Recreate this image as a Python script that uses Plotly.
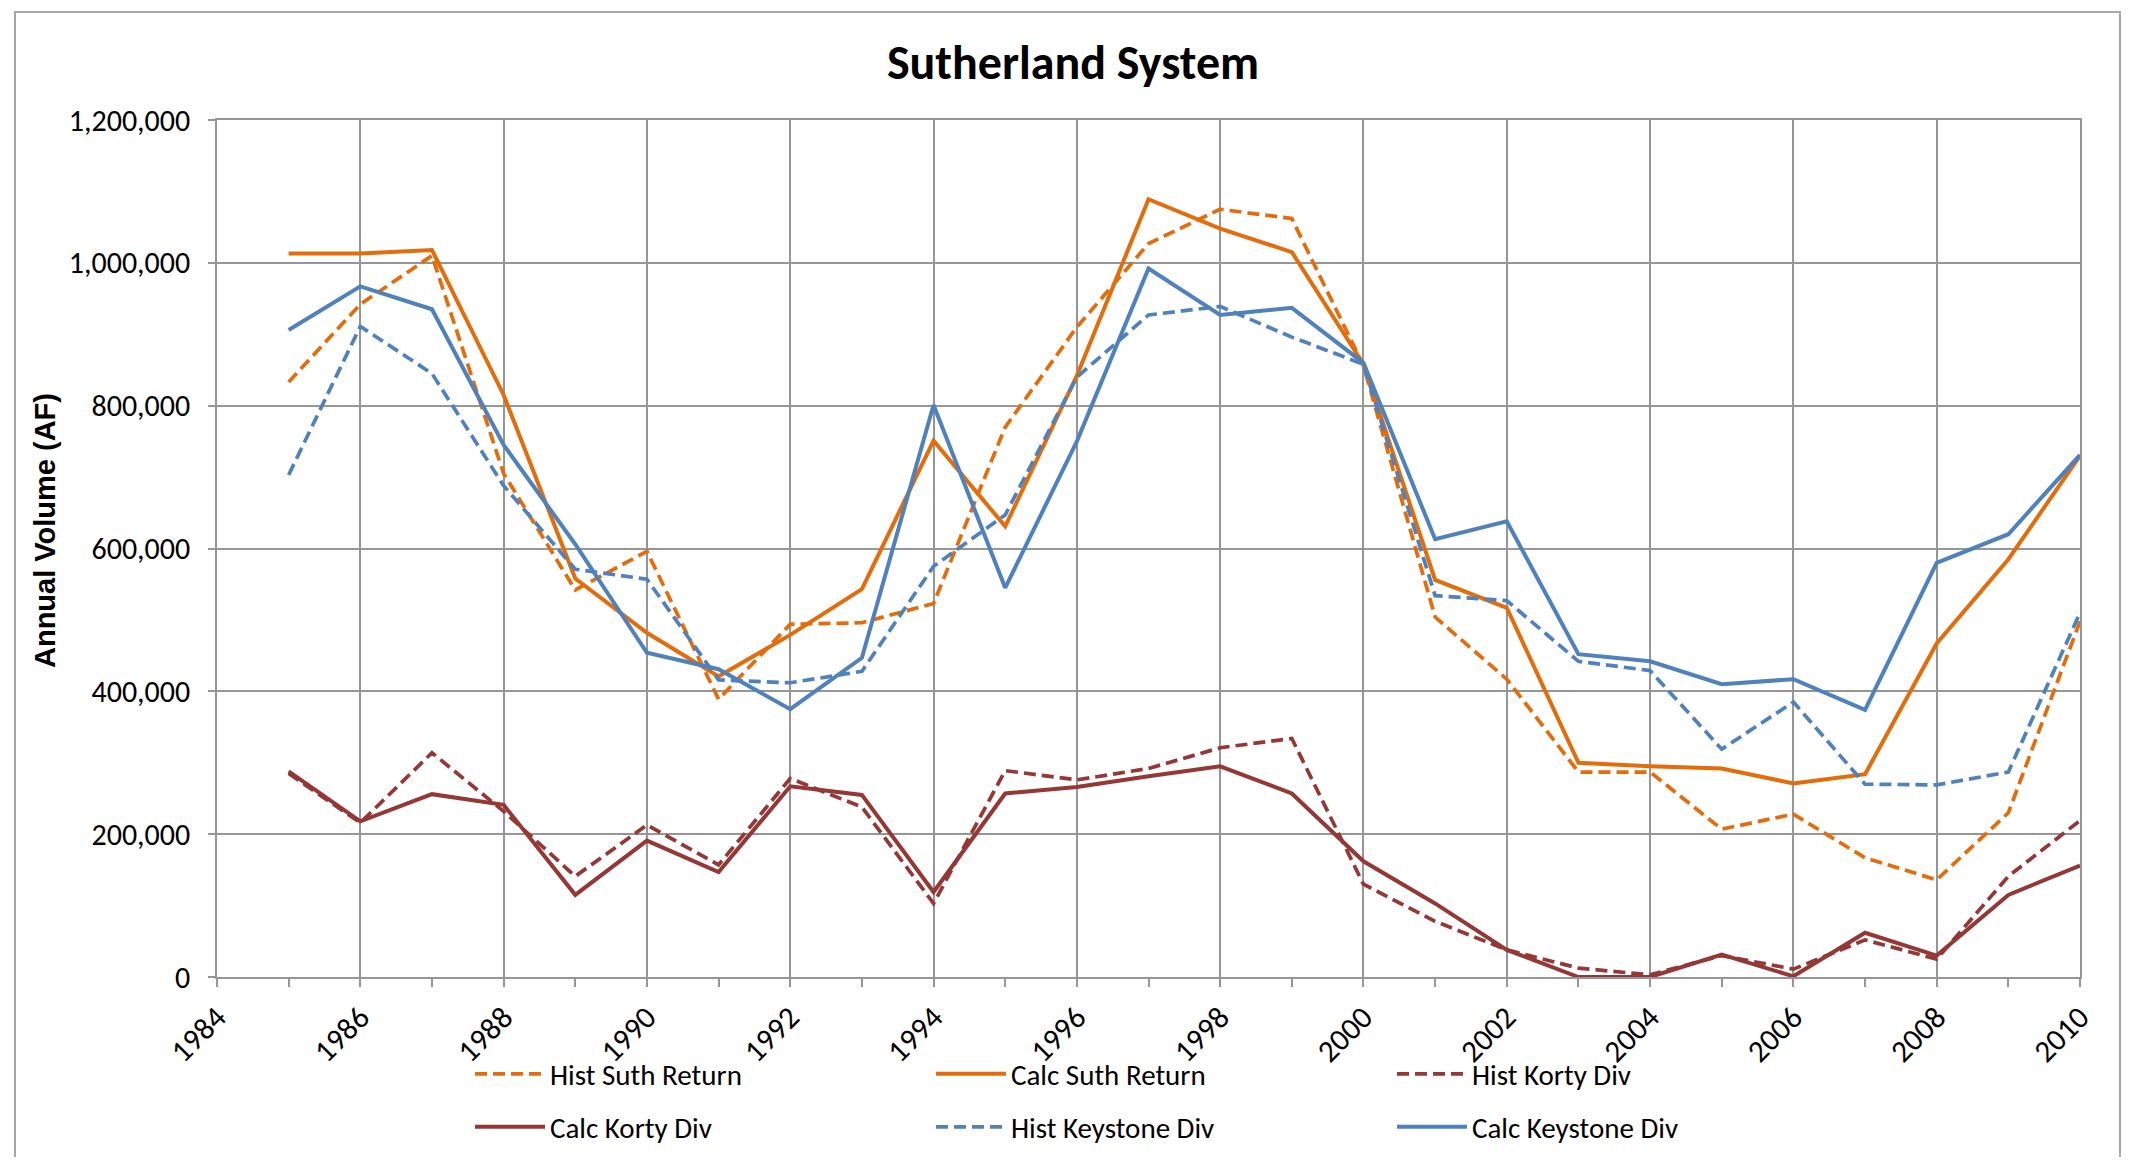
import plotly.graph_objects as go

years = list(range(1985, 2011))

hist_suth_return = [833000, 942000, 1010000, 705000, 542000, 596000, 389000, 494000, 496000, 523000,
                    770000, 910000, 1027000, 1075000, 1062000, 856000, 504000, 417000, 287000, 287000,
                    207000, 228000, 167000, 136000, 230000, 498000]
calc_suth_return = [1013000, 1013000, 1018000, 815000, 558000, 482000, 421000, 479000, 543000, 751000,
                    631000, 842000, 1089000, 1048000, 1015000, 858000, 556000, 517000, 300000, 295000,
                    292000, 271000, 284000, 467000, 585000, 730000]
hist_korty_div = [285000, 216000, 314000, 232000, 141000, 213000, 157000, 278000, 238000, 103000,
                  289000, 276000, 292000, 321000, 334000, 130000, 78000, 38000, 12500, 3000,
                  30000, 11000, 52000, 25000, 141000, 219000]
calc_korty_div = [288000, 218000, 256000, 241000, 115000, 191000, 147000, 267000, 255000, 119000,
                  257000, 266000, 281000, 295000, 257000, 162000, 103000, 38000, 0, 0,
                  31500, 1000, 62000, 30000, 115000, 156000]
hist_keystone_div = [703000, 911000, 845000, 688000, 571000, 557000, 416000, 412000, 428000, 575000,
                     647000, 840000, 927000, 939000, 896000, 858000, 534000, 527000, 442000, 429000,
                     319000, 385000, 270000, 269000, 287000, 510000]
calc_keystone_div = [906000, 967000, 935000, 745000, 606000, 454000, 431000, 375000, 447000, 801000,
                     545000, 750000, 992000, 927000, 937000, 860000, 613000, 638000, 452000, 442000,
                     410000, 417000, 374000, 580000, 620000, 731000]

x_tick_vals = list(range(1984, 2011, 2))
x_tick_text = [str(v) for v in x_tick_vals]
y_tick_vals = [0, 200000, 400000, 600000, 800000, 1000000, 1200000]
y_tick_text = ["0", "200,000", "400,000", "600,000", "800,000", "1,000,000", "1,200,000"]

ORANGE = "#E46C0A"
DRED = "#953735"
BLUE = "#4F81BD"
GRID = "#969696"
FONT = "Carlito, Calibri, Liberation Sans Narrow, sans-serif"

# page offset caused by the default body margin of the html page
OFF = 8
W, H = 2130 - 2 * OFF, 1165 - 2 * OFF
# plot area in page pixels
P_LEFT, P_RIGHT, P_TOP, P_BOTTOM = 217, 2080, 120, 977
L = P_LEFT - OFF
R = W - (P_RIGHT - OFF)
T = P_TOP - OFF
B = H - (P_BOTTOM - OFF)
PW, PH = W - L - R, H - T - B


def px_x(p):
    return (p - OFF - L) / PW


def px_y(p):
    return (P_BOTTOM - p) / PH


def cx(p):
    return (p - OFF) / W


def cy(p):
    return 1 - (p - OFF) / H


series = [
    ("Hist Suth Return", hist_suth_return, ORANGE, "dash", "legend"),
    ("Calc Suth Return", calc_suth_return, ORANGE, "solid", "legend"),
    ("Hist Korty Div", hist_korty_div, DRED, "dash", "legend"),
    ("Calc Korty Div", calc_korty_div, DRED, "solid", "legend2"),
    ("Hist Keystone Div", hist_keystone_div, BLUE, "dash", "legend2"),
    ("Calc Keystone Div", calc_keystone_div, BLUE, "solid", "legend2"),
]

fig = go.Figure()
for name, vals, color, dash, leg in series:
    fig.add_trace(go.Scatter(
        x=years, y=vals, name=name, mode="lines",
        line=dict(color=color, width=4.0 if dash == "solid" else 3.7,
                  dash="solid" if dash == "solid" else "12px,6px"),
        legend=leg,
    ))

legend_common = dict(
    orientation="h", xref="container", yref="container", xanchor="left", yanchor="middle",
    font=dict(family=FONT, size=29, color="#000000"),
    entrywidth=376, entrywidthmode="pixels", itemwidth=70,
    bgcolor="rgba(0,0,0,0)", traceorder="normal",
)

fig.update_layout(
    width=W, height=H,
    margin=dict(l=L, r=R, t=T, b=B, autoexpand=False),
    paper_bgcolor="white", plot_bgcolor="white",
    title=dict(text="<b>Sutherland System</b>", x=cx(1073), xref="container", xanchor="center",
               y=cy(62), yref="container", yanchor="middle",
               font=dict(family=FONT, size=48, color="#000000")),
    xaxis=dict(range=[1984, 2010], tickmode="array", tickvals=x_tick_vals, ticktext=x_tick_text,
               tickangle=-45, showgrid=True, gridcolor=GRID, gridwidth=1.6,
               showline=True, linecolor=GRID, linewidth=1.6, mirror=True,
               ticks="outside", ticklen=8, tickcolor=GRID, tickwidth=1.6,
               minor=dict(dtick=1, ticks="outside", ticklen=8, tickcolor=GRID, tickwidth=1.6, showgrid=False),
               tickfont=dict(family=FONT, size=31, color="#000000"), zeroline=False, automargin=False),
    yaxis=dict(range=[0, 1200000], tickmode="array", tickvals=y_tick_vals, ticktext=y_tick_text,
               showgrid=True, gridcolor=GRID, gridwidth=1.6,
               showline=True, linecolor=GRID, linewidth=1.6, mirror=True,
               ticks="outside", ticklen=7, tickcolor=GRID, tickwidth=1.6, ticklabelstandoff=12,
               tickfont=dict(family=FONT, size=30, color="#000000"), zeroline=False, automargin=False),
    legend=dict(x=cx(470), y=cy(1074), **legend_common),
    legend2=dict(x=cx(470), y=cy(1127), **legend_common),
    showlegend=True,
)

fig.add_annotation(text="<b>Annual Volume (AF)</b>", textangle=-90, xref="paper", yref="paper",
                   x=px_x(45), y=px_y(531), xanchor="center", yanchor="middle", showarrow=False,
                   font=dict(family="Liberation Sans, Arial, sans-serif", size=29, color="#000000"))

fig.add_shape(type="rect", xref="paper", yref="paper",
              x0=px_x(15), x1=px_x(2120), y0=px_y(1185), y1=px_y(12),
              line=dict(color="#A6A6A6", width=2), fillcolor="rgba(0,0,0,0)", layer="below")

fig.write_html("out.html")
